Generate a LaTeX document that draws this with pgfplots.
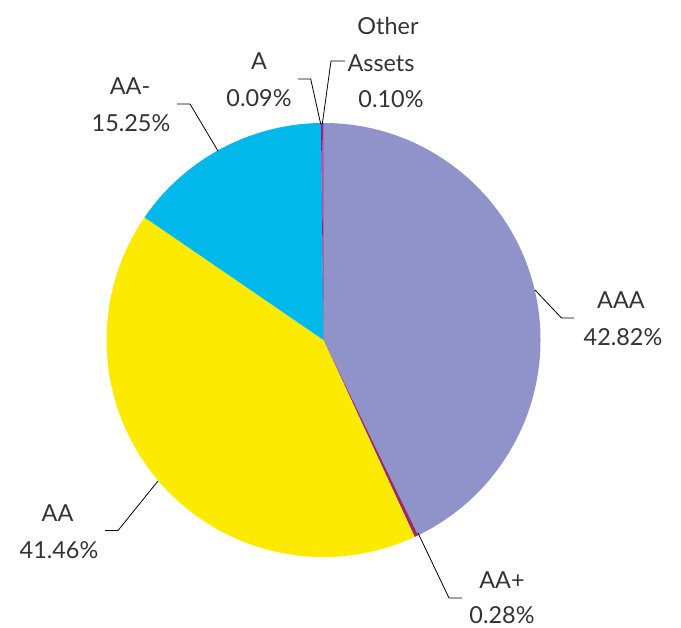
\documentclass[border=0pt]{standalone}
\usepackage{pgfplots}
\pgfplotsset{compat=1.18}
\usepackage{fontspec}
\setmainfont{Lato}
\definecolor{cAAA}{HTML}{8F93C9}
\definecolor{cAAp}{HTML}{9C2A6B}
\definecolor{cAA}{HTML}{FCEA00}
\definecolor{cAAm}{HTML}{00B9EA}
\definecolor{cA}{HTML}{7A2C8C}
\definecolor{cOth}{HTML}{A1208F}
\definecolor{txt}{HTML}{333333}
\tikzset{lbl/.style={font=\fontsize{23.5}{37}\selectfont, text=txt, anchor=base, inner sep=0pt}}
% slice: {cumulative percent before} {percent} {colour}
\newcommand{\slice}[3]{%
  \fill[#3] (axis cs:323.5,288) -- ++({90-3.6*#1}:217bp)
    arc[start angle={90-3.6*#1}, end angle={90-3.6*(#1+#2)}, radius=217bp] -- cycle;}
\begin{document}
\begin{tikzpicture}
\useasboundingbox (0,0) rectangle (681bp,628bp);
\begin{axis}[at={(0,0)}, anchor=south west, scale only axis,
  width=681bp, height=628bp, xmin=0, xmax=681, ymin=0, ymax=628,
  hide axis, clip=false]
\slice{0}{42.82}{cAAA}
\slice{42.82}{0.28}{cAAp}
\slice{43.10}{41.46}{cAA}
\slice{84.56}{15.25}{cAAm}
\slice{99.81}{0.09}{cA}
\slice{99.90}{0.10}{cOth}
% leader lines
\addplot[black, line width=0.8pt, mark=none] coordinates {(535,338) (561.5,310) (574,310)};
\addplot[black, line width=0.8pt, mark=none] coordinates {(158,147) (118,97.5) (105,97.5)};
\addplot[black, line width=0.8pt, mark=none] coordinates {(418,95) (449,30) (462,30)};
\addplot[black, line width=0.8pt, mark=none] coordinates {(218,477) (190,524) (177,524)};
\addplot[black, line width=0.8pt, mark=none] coordinates {(320.7,504) (310.7,549) (298,549)};
\addplot[black, line width=0.8pt, mark=none] coordinates {(322.3,504) (331,567) (345,567)};
% labels
\node[lbl] at (axis cs:388,593) {Other};
\node[lbl] at (axis cs:381,556) {Assets};
\node[lbl] at (axis cs:391,520) {0.10\%};
\node[lbl] at (axis cs:259,558) {A};
\node[lbl] at (axis cs:259,521) {0.09\%};
\node[lbl] at (axis cs:130,533) {AA-};
\node[lbl] at (axis cs:131,496) {15.25\%};
\node[lbl] at (axis cs:621,319) {AAA};
\node[lbl] at (axis cs:623,282) {42.82\%};
\node[lbl] at (axis cs:57.5,106) {AA};
\node[lbl] at (axis cs:59,69) {41.46\%};
\node[lbl] at (axis cs:502,39) {AA+};
\node[lbl] at (axis cs:502,4.5) {0.28\%};
\end{axis}
\end{tikzpicture}
\end{document}
